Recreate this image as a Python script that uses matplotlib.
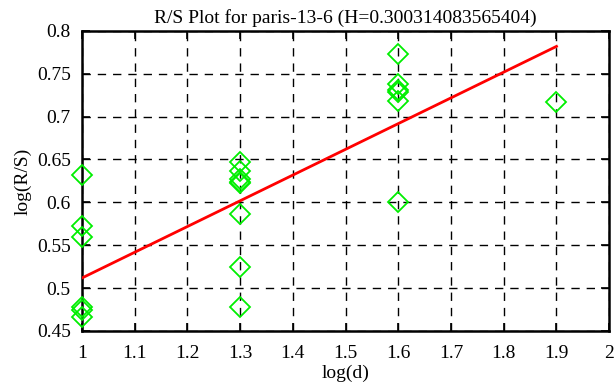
import matplotlib
matplotlib.use("Agg")
import matplotlib.pyplot as plt

# R/S points
log_d = [1.0, 1.0, 1.0, 1.0, 1.0, 1.0,
         1.3, 1.3, 1.3, 1.3, 1.3, 1.3, 1.3, 1.3,
         1.6, 1.6, 1.6, 1.6, 1.6, 1.6,
         1.9]
log_rs = [0.632, 0.572, 0.559, 0.478, 0.474, 0.466,
          0.647, 0.636, 0.627, 0.624, 0.622, 0.586, 0.525, 0.478,
          0.773, 0.738, 0.731, 0.729, 0.718, 0.600,
          0.717]

# fitted line
fit_x = [1.0, 1.9]
fit_y = [0.5117, 0.7820]

title = "R/S Plot for paris-13-6 (H=0.300314083565404)"
xticks = [1, 1.1, 1.2, 1.3, 1.4, 1.5, 1.6, 1.7, 1.8, 1.9, 2]
yticks = [0.45, 0.5, 0.55, 0.6, 0.65, 0.7, 0.75, 0.8]

plt.rcParams['font.family'] = ['Liberation Serif', 'DejaVu Serif']
plt.rcParams['font.size'] = 14

fig = plt.figure(figsize=(6.16, 3.87), dpi=100)
ax = fig.add_axes([0.133, 0.145, 0.856, 0.775])

ax.plot(log_d, log_rs, linestyle='none', marker='D', markersize=10,
        markerfacecolor='none', markeredgecolor='#00ee00', markeredgewidth=1.3,
        zorder=3, clip_on=False)
ax.plot(fit_x, fit_y, color='#ff0000', linewidth=2, zorder=4)

ax.set_xlim(1, 2)
ax.set_ylim(0.45, 0.8)
ax.set_xticks(xticks)
ax.set_xticklabels([str(t) for t in xticks])
ax.set_yticks(yticks)
ax.set_yticklabels([str(t) for t in yticks])
ax.tick_params(direction='in', length=6, width=1.2, top=True, right=True)
ax.tick_params(axis='x', pad=10)
ax.tick_params(axis='y', pad=8)
ax.grid(True, color='black', linestyle=(0, (6, 5)), linewidth=1)
for s in ax.spines.values():
    s.set_linewidth(1.8)

ax.set_title(title, fontsize=14, pad=6)
ax.set_xlabel("log(d)", labelpad=2)
ax.set_ylabel("log(R/S)")

fig.savefig("out.png", dpi=100)
